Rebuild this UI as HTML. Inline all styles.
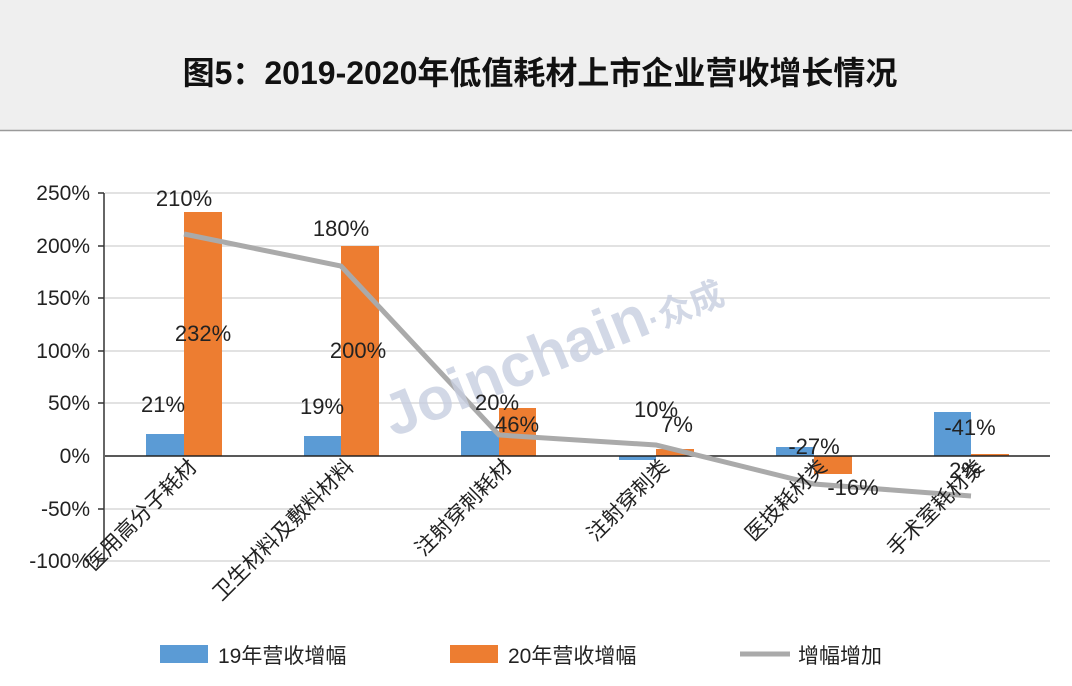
<!DOCTYPE html>
<html><head><meta charset="utf-8"><style>
body{margin:0;width:1072px;height:681px;overflow:hidden;background:#fff;font-family:"Liberation Sans","Noto Sans CJK SC",sans-serif;}
</style></head><body>
<svg width="1072" height="681" xmlns="http://www.w3.org/2000/svg" font-family="Liberation Sans, Noto Sans CJK SC, sans-serif">
<rect x="0" y="0" width="1072" height="130" fill="#efefef"/>
<line x1="0" y1="130.5" x2="1072" y2="130.5" stroke="#9a9a9a" stroke-width="1.5"/>
<text x="540" y="84" text-anchor="middle" font-size="32" font-weight="600" fill="#111">图5：2019-2020年低值耗材上市企业营收增长情况</text>
<g stroke="#d9d9d9" stroke-width="1.5">
<line x1="105" y1="193" x2="1050" y2="193"/><line x1="105" y1="246" x2="1050" y2="246"/>
<line x1="105" y1="298" x2="1050" y2="298"/><line x1="105" y1="351" x2="1050" y2="351"/>
<line x1="105" y1="403" x2="1050" y2="403"/><line x1="105" y1="509" x2="1050" y2="509"/>
<line x1="105" y1="561" x2="1050" y2="561"/></g>
<line x1="104" y1="193" x2="104" y2="561" stroke="#333" stroke-width="1.5"/>
<g stroke="#333" stroke-width="1.5"><line x1="98" y1="193" x2="104" y2="193"/><line x1="98" y1="246" x2="104" y2="246"/><line x1="98" y1="298" x2="104" y2="298"/><line x1="98" y1="351" x2="104" y2="351"/><line x1="98" y1="403" x2="104" y2="403"/><line x1="98" y1="509" x2="104" y2="509"/><line x1="98" y1="561" x2="104" y2="561"/></g>
<g font-size="21" fill="#222" text-anchor="end">
<text x="90" y="200">250%</text><text x="90" y="253">200%</text><text x="90" y="305">150%</text><text x="90" y="358">100%</text><text x="90" y="410">50%</text><text x="90" y="463">0%</text><text x="90" y="516">-50%</text><text x="90" y="568">-100%</text></g>
<g fill="#5b9bd5">
<rect x="146" y="434" width="38" height="22"/><rect x="304" y="436" width="37" height="20"/>
<rect x="461" y="431" width="38" height="25"/><rect x="619" y="456" width="37" height="4"/>
<rect x="776" y="447" width="38" height="9"/><rect x="934" y="412" width="37" height="44"/></g>
<g fill="#ed7d31">
<rect x="184" y="212" width="38" height="244"/><rect x="341" y="246" width="38" height="210"/>
<rect x="499" y="408" width="37" height="48"/><rect x="656" y="449" width="38" height="7"/>
<rect x="814" y="456" width="38" height="18"/><rect x="971" y="454" width="38" height="2"/></g>
<line x1="105" y1="456" x2="1050" y2="456" stroke="#222" stroke-width="1.5"/>
<polyline points="184,234 341,266 499,435 656,445 814,484 971,496" fill="none" stroke="#aaa" stroke-width="5"/>
<text x="560" y="370" font-size="60" font-weight="bold" fill="#c8cfe0" opacity="0.8" transform="rotate(-22 560 370)" text-anchor="middle">Joinchain<tspan font-size="34">·众成</tspan></text>
<g font-size="22" fill="#222" text-anchor="middle">
<text x="184" y="206">210%</text><text x="341" y="236">180%</text>
<text x="203" y="341">232%</text><text x="358" y="358">200%</text>
<text x="163" y="412">21%</text><text x="322" y="414">19%</text>
<text x="497" y="410">20%</text><text x="517" y="432">46%</text>
<text x="656" y="417">10%</text><text x="677" y="432">7%</text>
<text x="814" y="454">-27%</text><text x="853" y="495">-16%</text>
<text x="970" y="435">-41%</text><text x="965" y="478">2%</text></g>
<g font-size="21" fill="#222" text-anchor="end">
<text transform="translate(198,468) rotate(-45)">医用高分子耗材</text>
<text transform="translate(355,468) rotate(-45)">卫生材料及敷料材料</text>
<text transform="translate(513,468) rotate(-45)">注射穿刺耗材</text>
<text transform="translate(670,468) rotate(-45)">注射穿刺类</text>
<text transform="translate(828,468) rotate(-45)">医技耗材类</text>
<text transform="translate(985,468) rotate(-45)">手术室耗材类</text></g>
<rect x="160" y="645" width="48" height="18" fill="#5b9bd5"/>
<text x="218" y="663" font-size="21" fill="#222">19年营收增幅</text>
<rect x="450" y="645" width="48" height="18" fill="#ed7d31"/>
<text x="508" y="663" font-size="21" fill="#222">20年营收增幅</text>
<line x1="740" y1="654" x2="790" y2="654" stroke="#aaa" stroke-width="5"/>
<text x="798" y="663" font-size="21" fill="#222">增幅增加</text>
</svg>
</body></html>
